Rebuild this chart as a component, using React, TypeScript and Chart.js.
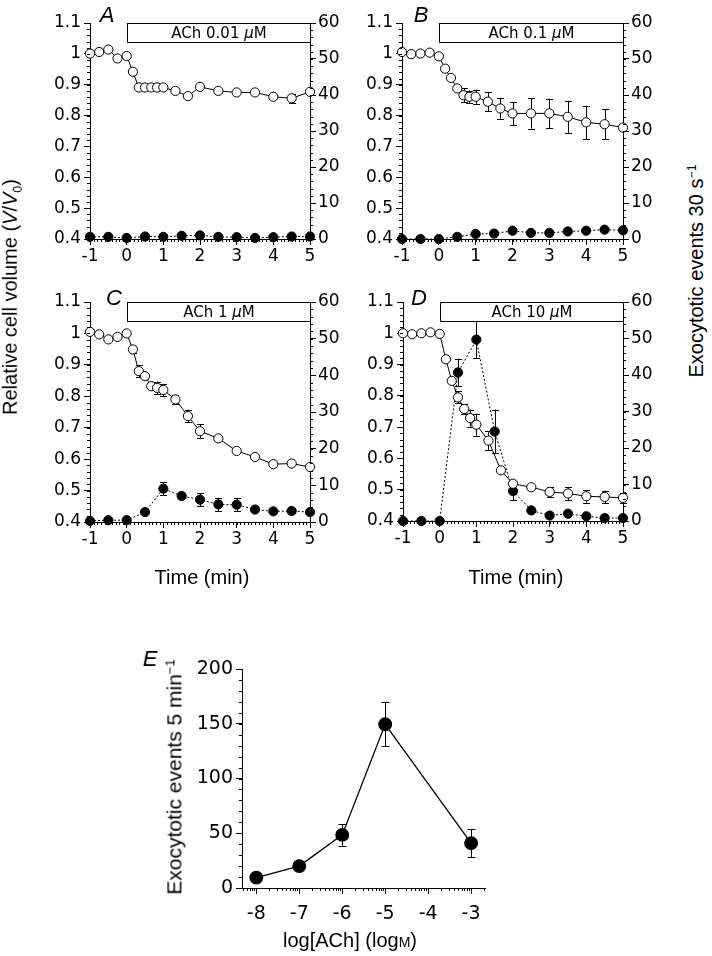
import React, { useEffect, useRef } from 'react';
import { Chart, registerables } from 'chart.js';
Chart.register(...registerables);

// ---------- data ----------
const TIME_VOL = [-1, -0.75, -0.5, -0.25, 0, 0.17, 0.33, 0.5, 0.67, 0.83, 1, 1.33, 1.67, 2, 2.5, 3, 3.5, 4, 4.5, 5];
const TIME_EXO = [-1, -0.5, 0, 0.5, 1, 1.5, 2, 2.5, 3, 3.5, 4, 4.5, 5];

const VOL_A = [1.001, 1.006, 1.014, 0.985, 0.993, 0.942, 0.891, 0.891, 0.891, 0.891, 0.891, 0.88, 0.863, 0.893, 0.88, 0.875, 0.875, 0.861, 0.856, 0.877];
const VOL_A_ERR = [0, 0, 0, 0, 0, 0, 0, 0, 0, 0, 0, 0, 0, 0, 0, 0, 0, 0, 0.015, 0];
const EXO_A = [0.6, 0.6, 0.3, 0.7, 0.6, 0.9, 1.0, 0.6, 0.5, 0.3, 0.5, 0.7, 0.7];
const EXO_A_ERR = [0, 0, 0, 0, 0, 0, 0, 0, 0, 0, 0, 0, 0];

const VOL_B = [1.006, 0.999, 1.001, 1.004, 0.992, 0.952, 0.922, 0.888, 0.866, 0.861, 0.861, 0.845, 0.823, 0.807, 0.807, 0.807, 0.796, 0.778, 0.772, 0.761];
const VOL_B_ERR = [0, 0, 0, 0, 0, 0, 0, 0, 0.023, 0.02, 0.023, 0.031, 0.033, 0.037, 0.049, 0.048, 0.052, 0.054, 0.049, 0];
const EXO_B = [0, 0, 0, 0.6, 1.4, 1.5, 2.3, 1.7, 1.7, 2.1, 2.3, 2.6, 2.4];
const EXO_B_ERR = [0, 0, 0, 0, 0, 0, 0, 0, 0, 0, 0, 0, 0];

const VOL_C = [1.005, 0.997, 0.981, 0.989, 1.0, 0.949, 0.88, 0.864, 0.832, 0.827, 0.82, 0.79, 0.737, 0.689, 0.666, 0.626, 0.607, 0.584, 0.586, 0.575];
const VOL_C_ERR = [0, 0, 0, 0, 0, 0.01, 0.02, 0.01, 0.01, 0.02, 0.02, 0.015, 0.02, 0.022, 0, 0, 0, 0, 0, 0];
const EXO_C = [0.3, 0.5, 0.5, 2.7, 9.1, 7.1, 6.1, 4.8, 4.7, 3.4, 2.9, 3.0, 2.7];
const EXO_C_ERR = [0, 0, 0, 0, 1.8, 0, 1.8, 1.8, 1.8, 0, 0, 0, 0];

const VOL_D = [1.0, 0.997, 1.0, 1.003, 0.998, 0.917, 0.848, 0.795, 0.758, 0.729, 0.708, 0.657, 0.562, 0.519, 0.508, 0.493, 0.488, 0.479, 0.477, 0.474];
const VOL_D_ERR = [0, 0, 0, 0, 0, 0, 0, 0.019, 0.015, 0.027, 0.035, 0.03, 0, 0, 0, 0.015, 0.02, 0.02, 0.02, 0.015];
const EXO_D = [0, 0, 0, 40.7, 49.7, 24.5, 8.2, 2.9, 1.5, 2.0, 1.3, 0.8, 0.8];
const EXO_D_ERR = [0, 0, 0, 3.8, 5, 6, 2.5, 0, 0, 0, 0, 0, 0];

const ACH_LABELS = ['0.01', '0.1', '1', '10'];

const TIME_TICKS = [-1, 0, 1, 2, 3, 4, 5];
const VOL_TICKS = [0.4, 0.5, 0.6, 0.7, 0.8, 0.9, 1.0, 1.1];
const EXO_TICKS = [0, 10, 20, 30, 40, 50, 60];

const LOG_ACH = [-8, -7, -6, -5, -3];
const EXO5 = [9.5, 20, 48.5, 149.5, 41];
const EXO5_ERR = [0, 0, 9.8, 20, 12.8];
const LOG_TICKS = [-8, -7, -6, -5, -4, -3];
const EXO5_TICKS = [0, 50, 100, 150, 200];

// ---------- layout ----------
const PAD_TOP = 20;
const WL = 70;
const WR = 55;
const HX = 45;

type Rect = { l: number; t: number; r: number; b: number };
const RECT_A: Rect = { l: 90, t: 23, r: 310, b: 239 };
const RECT_B: Rect = { l: 402, t: 23, r: 623, b: 239 };
const RECT_C: Rect = { l: 90, t: 302, r: 310, b: 522 };
const RECT_D: Rect = { l: 403, t: 302, r: 623, b: 521 };
const RECT_E: Rect = { l: 242, t: 669, r: 463, b: 888 };

const TICK_FONT = { family: '"DejaVu Sans", sans-serif', size: 17 };
const TICK_FONT_E = { family: '"DejaVu Sans", sans-serif', size: 19 };

function steps(min: number, max: number, step: number): number[] {
  const out: number[] = [];
  const n = Math.round((max - min) / step);
  for (let i = 0; i <= n; i++) out.push(+(min + i * step).toFixed(6));
  return out;
}

function logMinors(min: number, max: number): number[] {
  const out: number[] = [];
  for (let d = Math.floor(min) - 1; d <= Math.ceil(max); d++) {
    for (let k = 2; k <= 9; k++) {
      const v = d + Math.log10(k);
      if (v >= min && v <= max) out.push(v);
    }
  }
  return out;
}

// ---------- plugins ----------
const errorBarPlugin = {
  id: 'errBars',
  beforeDatasetsDraw(chart: any, _a: any, opts: any) {
    const ctx = chart.ctx;
    const cap = (opts && opts.cap) || 3.5;
    ctx.save();
    ctx.strokeStyle = '#000';
    ctx.lineWidth = 1;
    chart.data.datasets.forEach((ds: any, i: number) => {
      if (!ds.errors) return;
      const meta = chart.getDatasetMeta(i);
      const ys = chart.scales[meta.yAxisID];
      meta.data.forEach((pt: any, j: number) => {
        const e = ds.errors[j];
        if (!e) return;
        const v = ds.data[j].y;
        const x = Math.round(pt.x) + 0.5;
        const y1 = ys.getPixelForValue(v + e);
        const y2 = ys.getPixelForValue(v - e);
        ctx.beginPath();
        ctx.moveTo(x, y1);
        ctx.lineTo(x, y2);
        ctx.moveTo(x - cap, Math.round(y1) + 0.5);
        ctx.lineTo(x + cap, Math.round(y1) + 0.5);
        ctx.moveTo(x - cap, Math.round(y2) + 0.5);
        ctx.lineTo(x + cap, Math.round(y2) + 0.5);
        ctx.stroke();
      });
    });
    ctx.restore();
  },
};

const minorTickPlugin = {
  id: 'minorTicks',
  afterDraw(chart: any, _a: any, opts: any) {
    const specs = (opts && opts.specs) || [];
    const ctx = chart.ctx;
    const ca = chart.chartArea;
    ctx.save();
    ctx.strokeStyle = '#000';
    ctx.lineWidth = 1;
    for (const sp of specs) {
      const sc = chart.scales[sp.scale];
      for (const v of sp.values) {
        const p = Math.round(sc.getPixelForValue(v)) + 0.5;
        ctx.beginPath();
        if (sc.isHorizontal()) {
          ctx.moveTo(p, ca.bottom);
          ctx.lineTo(p, ca.bottom + sp.len);
        } else if (sc.position === 'left') {
          ctx.moveTo(ca.left, p);
          ctx.lineTo(ca.left - sp.len, p);
        } else {
          ctx.moveTo(ca.right, p);
          ctx.lineTo(ca.right + sp.len, p);
        }
        ctx.stroke();
      }
    }
    ctx.restore();
  },
};

const achBarPlugin = {
  id: 'achBar',
  afterDatasetsDraw(chart: any, _a: any, opts: any) {
    if (!opts || !opts.label) return;
    const ctx = chart.ctx;
    const xs = chart.scales.x;
    const ys = chart.scales.yL;
    const x0 = Math.round(xs.getPixelForValue(opts.x0)) + 0.5;
    const x1 = Math.round(xs.getPixelForValue(opts.x1)) + 0.5;
    const y0 = Math.round(ys.getPixelForValue(opts.y0)) + 0.5;
    const y1 = Math.round(ys.getPixelForValue(opts.y1)) + 0.5;
    ctx.save();
    ctx.fillStyle = '#fff';
    ctx.fillRect(x0, y0, x1 - x0, y1 - y0);
    ctx.strokeStyle = '#000';
    ctx.lineWidth = 1;
    ctx.strokeRect(x0, y0, x1 - x0, y1 - y0);
    const fam = '"DejaVu Sans", sans-serif';
    const normal = '15px ' + fam;
    const italic = 'italic 15px ' + fam;
    const p1 = 'ACh ' + opts.label + ' ';
    const p2 = '\u03bc';
    const p3 = 'M';
    ctx.font = normal;
    const w1 = ctx.measureText(p1).width;
    const w3 = ctx.measureText(p3).width;
    ctx.font = italic;
    const w2 = ctx.measureText(p2).width;
    const total = w1 + w2 + w3;
    let x = (x0 + x1) / 2 - total / 2;
    const y = (y0 + y1) / 2 + 1;
    ctx.fillStyle = '#000';
    ctx.textBaseline = 'middle';
    ctx.textAlign = 'left';
    ctx.font = normal;
    ctx.fillText(p1, x, y);
    x += w1;
    ctx.font = italic;
    ctx.fillText(p2, x, y);
    x += w2;
    ctx.font = normal;
    ctx.fillText(p3, x, y);
    ctx.restore();
  },
};

// ---------- config builders ----------
function axisCommon(font: any, padding: number) {
  return {
    grid: { display: true, drawOnChartArea: false, drawTicks: true, tickLength: 6, color: '#000', lineWidth: 1 },
    border: { display: true, color: '#000', width: 1 },
    ticks: { font, color: '#000', padding, maxRotation: 0, autoSkip: false },
  };
}

function timeConfig(vol: number[], volErr: number[], exo: number[], exoErr: number[], ach: string) {
  const xc = axisCommon(TICK_FONT, 1);
  const yl = axisCommon(TICK_FONT, 3);
  const yr = axisCommon(TICK_FONT, 2);
  return {
    type: 'line',
    data: {
      datasets: [
        {
          data: TIME_VOL.map((t, i) => ({ x: t, y: vol[i] })),
          errors: volErr,
          yAxisID: 'yL',
          borderColor: '#000',
          borderWidth: 1,
          backgroundColor: '#fff',
          pointBackgroundColor: '#fff',
          pointBorderColor: '#000',
          pointBorderWidth: 1,
          pointRadius: 4.6,
          clip: false,
          tension: 0,
        },
        {
          data: TIME_EXO.map((t, i) => ({ x: t, y: exo[i] })),
          errors: exoErr,
          yAxisID: 'yR',
          borderColor: '#000',
          borderWidth: 1,
          borderDash: [2, 2],
          backgroundColor: '#000',
          pointBackgroundColor: '#000',
          pointBorderColor: '#000',
          pointBorderWidth: 1,
          pointRadius: 4.6,
          clip: false,
          tension: 0,
        },
      ],
    },
    options: {
      responsive: false,
      maintainAspectRatio: false,
      animation: false,
      devicePixelRatio: 1,
      events: [],
      layout: { padding: { top: PAD_TOP, left: 0, right: 0, bottom: 0 } },
      plugins: {
        legend: { display: false },
        tooltip: { enabled: false },
        errBars: { cap: 3.5 },
        achBar: { label: ach, x0: 0, x1: 5, y0: 1.1, y1: 1.04 },
        minorTicks: {
          specs: [
            { scale: 'x', values: steps(-1, 5, 0.1), len: 3 },
            { scale: 'yL', values: steps(0.4, 1.1, 0.02), len: 3 },
            { scale: 'yR', values: steps(0, 60, 2), len: 3 },
          ],
        },
      },
      scales: {
        x: {
          type: 'linear',
          min: -1,
          max: 5,
          ...xc,
          ticks: { ...xc.ticks, callback: (v: number) => String(v) },
          afterBuildTicks: (s: any) => { s.ticks = TIME_TICKS.map((v) => ({ value: v })); },
          afterFit: (s: any) => { s.height = HX; },
        },
        yL: {
          type: 'linear',
          position: 'left',
          min: 0.4,
          max: 1.1,
          ...yl,
          ticks: { ...yl.ticks, callback: (v: number) => String(+(+v).toFixed(1)) },
          afterBuildTicks: (s: any) => { s.ticks = VOL_TICKS.map((v) => ({ value: v })); },
          afterFit: (s: any) => { s.width = WL; },
        },
        yR: {
          type: 'linear',
          position: 'right',
          min: 0,
          max: 60,
          ...yr,
          ticks: { ...yr.ticks, callback: (v: number) => String(v) },
          afterBuildTicks: (s: any) => { s.ticks = EXO_TICKS.map((v) => ({ value: v })); },
          afterFit: (s: any) => { s.width = WR; },
        },
      },
    },
    plugins: [errorBarPlugin, minorTickPlugin, achBarPlugin],
  };
}

function doseConfig() {
  const xc = axisCommon(TICK_FONT_E, 9);
  const yc = axisCommon(TICK_FONT_E, 3);
  const xmin = -8.333;
  const xmax = -2.667;
  return {
    type: 'line',
    data: {
      datasets: [
        {
          data: LOG_ACH.map((x, i) => ({ x, y: EXO5[i] })),
          errors: EXO5_ERR,
          yAxisID: 'y',
          borderColor: '#000',
          borderWidth: 1.3,
          backgroundColor: '#000',
          pointBackgroundColor: '#000',
          pointBorderColor: '#000',
          pointRadius: 6.3,
          clip: false,
          tension: 0,
        },
      ],
    },
    options: {
      responsive: false,
      maintainAspectRatio: false,
      animation: false,
      devicePixelRatio: 1,
      events: [],
      layout: { padding: { top: PAD_TOP, left: 0, right: 0, bottom: 0 } },
      plugins: {
        legend: { display: false },
        tooltip: { enabled: false },
        errBars: { cap: 4 },
        minorTicks: {
          specs: [
            { scale: 'x', values: logMinors(xmin, xmax), len: 3 },
            { scale: 'y', values: steps(0, 200, 10), len: 3 },
          ],
        },
      },
      scales: {
        x: {
          type: 'linear',
          min: xmin,
          max: xmax,
          ...xc,
          ticks: { ...xc.ticks, callback: (v: number) => String(v) },
          afterBuildTicks: (s: any) => { s.ticks = LOG_TICKS.map((v) => ({ value: v })); },
          afterFit: (s: any) => { s.height = HX; },
        },
        y: {
          type: 'linear',
          position: 'left',
          min: 0,
          max: 200,
          ...yc,
          ticks: { ...yc.ticks, callback: (v: number) => String(v) },
          afterBuildTicks: (s: any) => { s.ticks = EXO5_TICKS.map((v) => ({ value: v })); },
          afterFit: (s: any) => { s.width = WL; },
        },
      },
    },
    plugins: [errorBarPlugin, minorTickPlugin],
  };
}

function Panel({ rect, build, wr }: { rect: Rect; build: () => any; wr: number }) {
  const ref = useRef<HTMLCanvasElement | null>(null);
  const w = rect.r - rect.l + WL + wr;
  const h = rect.b - rect.t + PAD_TOP + HX;
  useEffect(() => {
    if (!ref.current) return;
    const chart = new Chart(ref.current, build() as any);
    return () => chart.destroy();
  }, []);
  return (
    <canvas
      ref={ref}
      width={w}
      height={h}
      style={{ position: 'absolute', left: rect.l - WL, top: rect.t - PAD_TOP, width: w, height: h }}
    />
  );
}

const TITLE_FONT = '"Liberation Sans", Arial, sans-serif';

function Label({ x, y, size, rotate, italic, children }: any) {
  return (
    <div
      style={{
        position: 'absolute',
        left: x,
        top: y,
        transform: `translate(-50%, -50%)${rotate ? ' rotate(-90deg)' : ''}`,
        fontFamily: TITLE_FONT,
        fontSize: size,
        fontStyle: italic ? 'italic' : 'normal',
        lineHeight: 1,
        whiteSpace: 'nowrap',
        color: '#000',
      }}
    >
      {children}
    </div>
  );
}

const supStyle = { fontSize: '0.62em', verticalAlign: '0.55em' } as any;

export default function App() {
  return (
    <div style={{ position: 'absolute', left: 0, top: 0, width: 712, height: 956, background: '#fff', overflow: 'hidden' }}>
      <Panel rect={RECT_A} wr={WR} build={() => timeConfig(VOL_A, VOL_A_ERR, EXO_A, EXO_A_ERR, ACH_LABELS[0])} />
      <Panel rect={RECT_B} wr={WR} build={() => timeConfig(VOL_B, VOL_B_ERR, EXO_B, EXO_B_ERR, ACH_LABELS[1])} />
      <Panel rect={RECT_C} wr={WR} build={() => timeConfig(VOL_C, VOL_C_ERR, EXO_C, EXO_C_ERR, ACH_LABELS[2])} />
      <Panel rect={RECT_D} wr={WR} build={() => timeConfig(VOL_D, VOL_D_ERR, EXO_D, EXO_D_ERR, ACH_LABELS[3])} />
      <Panel rect={RECT_E} wr={30} build={doseConfig} />

      <Label x={107} y={15} size={22} italic>A</Label>
      <Label x={421} y={15} size={22} italic>B</Label>
      <Label x={114} y={298} size={22} italic>C</Label>
      <Label x={419} y={298} size={22} italic>D</Label>
      <Label x={150} y={659} size={22} italic>E</Label>

      <Label x={12} y={297} size={20} rotate>
        Relative cell volume (<i>V</i>/<i>V</i><sub style={{ fontSize: '0.62em' }}>0</sub>)
      </Label>
      <Label x={696} y={271} size={20} rotate>
        Exocytotic events 30 s<span style={supStyle}>−1</span>
      </Label>
      <Label x={202} y={577} size={20}>Time (min)</Label>
      <Label x={516} y={577} size={20}>Time (min)</Label>

      <Label x={174} y={777} size={21} rotate>
        Exocytotic events 5 min<span style={supStyle}>−1</span>
      </Label>
      <Label x={350} y={940} size={20}>
        log[ACh] (log<span style={{ fontVariant: 'small-caps' }}>m</span>)
      </Label>
    </div>
  );
}
